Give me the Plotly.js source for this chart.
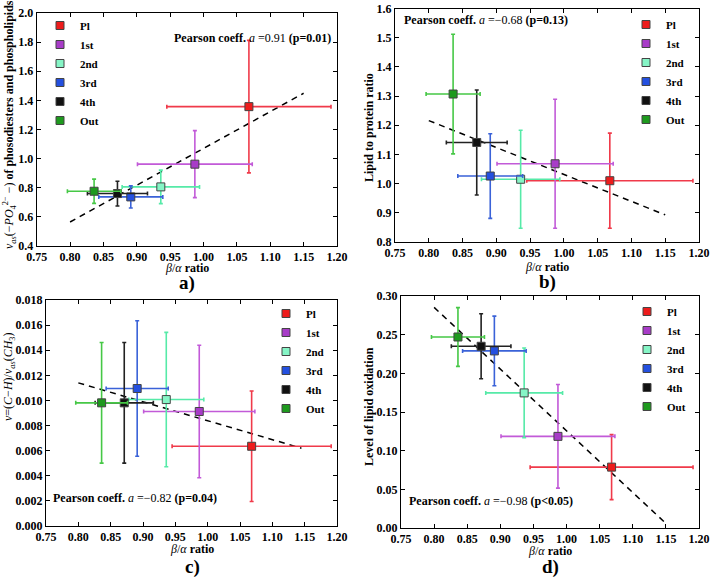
<!DOCTYPE html>
<html><head><meta charset="utf-8">
<script src="https://cdn.plot.ly/plotly-3.0.1.min.js"></script>
<style>html,body{margin:0;padding:0;background:#fff}#chart{width:712px;height:577px}</style>
</head><body><div id="chart"></div>
<script>
const categories = ['Pl','1st','2nd','3rd','4th','Out'];
const betaAlpha = [1.068, 0.987, 0.936, 0.891, 0.871, 0.836];
const betaAlphaErr = [0.123, 0.086, 0.058, 0.048, 0.045, 0.040];

const phosphoVals = [1.357, 0.962, 0.806, 0.737, 0.760, 0.776];
const phosphoErr = [0.455, 0.230, 0.115, 0.076, 0.085, 0.083];
const lipidProtVals = [1.010, 1.068, 1.015, 1.026, 1.141, 1.307];
const lipidProtErr = [0.163, 0.221, 0.168, 0.145, 0.180, 0.205];
const chRatioVals = [0.00635, 0.00912, 0.01007, 0.01095, 0.00981, 0.00981];
const chRatioErr = [0.0044, 0.00528, 0.00535, 0.0054, 0.0048, 0.0048];
const oxidVals = [0.0787, 0.1185, 0.1747, 0.229, 0.235, 0.247];
const oxidErr = [0.042, 0.067, 0.058, 0.045, 0.042, 0.038];

const fitX = [0.80, 1.15];
const fitA = [0.565, 1.449];
const fitB = [1.216, 0.893];
const fitXC = [0.80, 1.145];
const fitC = [0.0114, 0.0062];
const fitD = [0.2853, 0.006];

const pearsonA = '0.91', pA = '0.01';
const pearsonB = '\u22120.68', pB = '0.13';
const pearsonC = '\u22120.82', pC = '0.04';
const pearsonD = '\u22120.98', pD = '<0.05';

const markerColors = ['#ee1c1c', '#a83cc8', '#86f5c6', '#2450e0', '#111111', '#1e9a1e'];
const barColors = ['#f03a4a', '#c25ad8', '#56eaa8', '#3a62d8', '#222222', '#46c846'];

const W = 712, H = 577;
const px = v => v / W, py = v => 1 - v / H;
const SERIF = 'Liberation Serif';

const panels = [
  {vals: phosphoVals, err: phosphoErr, fx: fitX, fy: fitA, xa: 'x', ya: 'y', lg: 'legend'},
  {vals: lipidProtVals, err: lipidProtErr, fx: fitX, fy: fitB, xa: 'x2', ya: 'y2', lg: 'legend2'},
  {vals: chRatioVals, err: chRatioErr, fx: fitXC, fy: fitC, xa: 'x3', ya: 'y3', lg: 'legend3'},
  {vals: oxidVals, err: oxidErr, fx: fitX, fy: fitD, xa: 'x4', ya: 'y4', lg: 'legend4'}
];

const traces = [];
panels.forEach(p => {
  traces.push({x: p.fx, y: p.fy, xaxis: p.xa, yaxis: p.ya, mode: 'lines', showlegend: false,
    line: {color: '#000', width: 1.5, dash: '6px,5px'}, hoverinfo: 'skip'});
  categories.forEach((c, i) => {
    traces.push({
      x: [betaAlpha[i]], y: [p.vals[i]], xaxis: p.xa, yaxis: p.ya, name: c, legend: p.lg,
      mode: 'markers', type: 'scatter',
      marker: {symbol: 'square', size: 8, color: markerColors[i], line: {color: '#444', width: 1}},
      error_x: {type: 'data', array: [betaAlphaErr[i]], color: barColors[i], thickness: 1.6, width: 2},
      error_y: {type: 'data', array: [p.err[i]], color: barColors[i], thickness: 1.6, width: 2}
    });
  });
});

const tickFont = {family: SERIF, size: 12, color: '#000', weight: 'bold'};
function axis(dom, anchor, range, dtick, fmt) {
  return {domain: dom, anchor: anchor, range: range, dtick: dtick, tick0: range[0], tickformat: fmt,
    showgrid: false, zeroline: false, showline: true, linecolor: '#000', linewidth: 1, mirror: 'ticks',
    ticks: 'inside', ticklen: 4, tickcolor: '#000', tickfont: tickFont, ticklabelstandoff: 0};
}

const legendBase = {font: {family: SERIF, size: 11, color: '#000', weight: 'bold'}, bgcolor: 'rgba(0,0,0,0)',
  borderwidth: 0, xanchor: 'left', yanchor: 'top', tracegroupgap: 0, itemclick: false};

const boldF = (s) => ({family: SERIF, size: s, color: '#000', weight: 'bold'});
const mathT = s => '<span style="font-weight:normal">' + s + '</span>';
const pearson = (r, p) => 'Pearson coeff. ' + mathT('<i>a</i> =' + r) + ' (p' + (p[0] === '<' ? '&lt;' + p.slice(1) : '=' + p) + ')';
const xTitle = mathT('<i>β</i>/<i>α</i>') + ' ratio';

const ann = [];
function A(text, x, y, opts) { ann.push(Object.assign({text: text, x: px(x), y: py(y), xref: 'paper', yref: 'paper',
  xanchor: 'center', yanchor: 'middle', showarrow: false, font: boldF(12)}, opts || {})); }
// pearson
A(pearson(pearsonA, pA), 333, 38, {xanchor: 'right'});
A(pearson(pearsonB, pB), 402, 20, {xanchor: 'left'});
A(pearson(pearsonC, pC), 51, 498, {xanchor: 'left'});
A(pearson(pearsonD, pD), 407, 501, {xanchor: 'left'});
// x titles
A(xTitle, 187, 268); A(xTitle, 547, 267); A(xTitle, 192, 549); A(xTitle, 550, 551);
// panel labels
A('a)', 187, 283, {font: boldF(19)}); A('b)', 547, 282, {font: boldF(19)});
A('c)', 192, 567, {font: boldF(19)}); A('d)', 550, 567, {font: boldF(19)});
// y titles
A(mathT('<i>ν</i><sub><i>as</i></sub>(−<i>PO</i><sub>4</sub><sup>2−</sup> −)') + ' of phosodiesters and phospholipids', 10, 125, {textangle: -90});
A('Lipid to protein ratio', 369, 128, {textangle: -90});
A(mathT('<i>ν</i>=(<i>C</i>−<i>H</i>)/<i>ν</i><sub><i>as</i></sub>(<i>CH</i><sub>3</sub>)'), 9, 377, {textangle: -90});
A('Level of lipid oxidation', 369, 407, {textangle: -90});

const layout = {
  width: W, height: H, margin: {l: 0, r: 0, t: 0, b: 0}, paper_bgcolor: '#fff', plot_bgcolor: '#fff',
  font: {family: SERIF, color: '#000'},
  xaxis: axis([px(36.7), px(337)], 'y', [0.75, 1.20], 0.05, '.2f'),
  yaxis: axis([py(246), py(13)], 'x', [0.4, 2.0], 0.2, '.1f'),
  xaxis2: axis([px(395), px(699)], 'y2', [0.75, 1.20], 0.05, '.2f'),
  yaxis2: axis([py(242), py(8.5)], 'x2', [0.8, 1.6], 0.1, '.1f'),
  xaxis3: axis([px(46), px(337)], 'y3', [0.75, 1.20], 0.05, '.2f'),
  yaxis3: axis([py(526), py(300)], 'x3', [0, 0.018], 0.002, '.3f'),
  xaxis4: axis([px(401), px(699)], 'y4', [0.75, 1.20], 0.05, '.2f'),
  yaxis4: axis([py(528), py(296)], 'x4', [0, 0.30], 0.05, '.2f'),
  legend: Object.assign({x: px(40), y: py(11)}, legendBase),
  legend2: Object.assign({x: px(626), y: py(10)}, legendBase),
  legend3: Object.assign({x: px(266), y: py(299)}, legendBase),
  legend4: Object.assign({x: px(627), y: py(297)}, legendBase),
  annotations: ann, showlegend: true
};

Plotly.newPlot('chart', traces, layout, {displayModeBar: false, staticPlot: true});
</script></body></html>
